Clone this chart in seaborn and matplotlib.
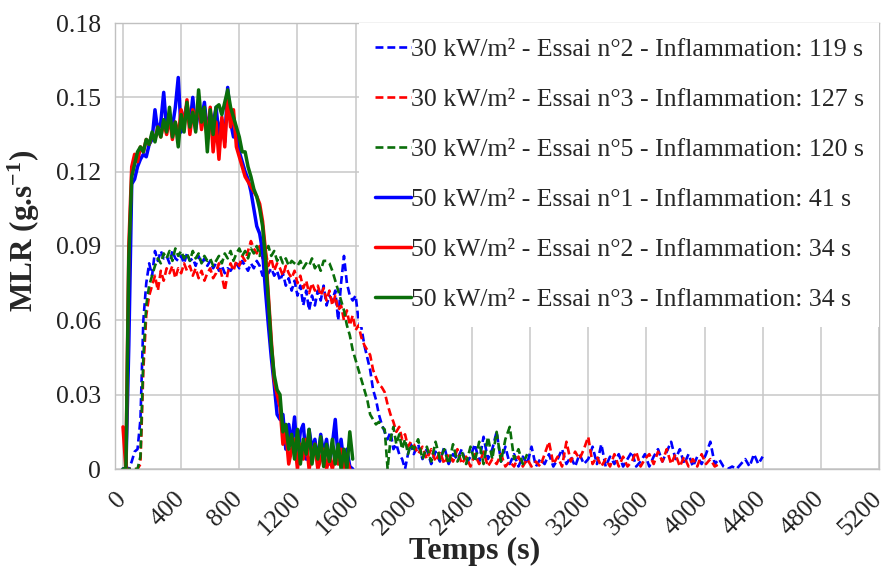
import matplotlib
matplotlib.use('Agg')
import matplotlib.pyplot as plt
import seaborn as sns
import numpy as np
import pandas as pd

# MLR curves read off the figure, main part sampled every 20 s from t = 0
# 30 kW/m2 curves also carry a tail sampled every 30 s from t = 2000
STEP_MAIN = 20
TAIL_START = 2000
STEP_TAIL = 30

labels = [
    "30 kW/m² - Essai n°2 - Inflammation: 119 s",
    "30 kW/m² - Essai n°3 - Inflammation: 127 s",
    "30 kW/m² - Essai n°5 - Inflammation: 120 s",
    "50 kW/m² - Essai n°1 - Inflammation: 41 s",
    "50 kW/m² - Essai n°2 - Inflammation: 34 s",
    "50 kW/m² - Essai n°3 - Inflammation: 34 s",
]
colors = ['#0000FF', '#FF0000', '#0A6E0A', '#0000FF', '#FF0000', '#0A6E0A']
styles = ['--', '--', '--', '-', '-', '-']

mlr_30_e2 = [
    0, 0, 0, 0.003, 0.007, 0.008, 0.02, 0.06, 0.075, 0.083,
    0.078, 0.088, 0.084, 0.088, 0.085, 0.086, 0.083, 0.088, 0.085, 0.084,
    0.086, 0.083, 0.087, 0.084, 0.085, 0.082, 0.086, 0.083, 0.085, 0.082,
    0.084, 0.081, 0.083, 0.080, 0.082, 0.079, 0.081, 0.080, 0.082, 0.083,
    0.081, 0.084, 0.082, 0.080, 0.083, 0.081, 0.084, 0.082, 0.078, 0.080,
    0.079, 0.081, 0.078, 0.080, 0.076, 0.079, 0.074, 0.077, 0.072, 0.076,
    0.070, 0.074, 0.066, 0.072, 0.064, 0.070, 0.066, 0.072, 0.068, 0.074,
    0.066, 0.070, 0.068, 0.072, 0.060, 0.075, 0.086, 0.075, 0.070, 0.068,
    0.070, 0.060, 0.057, 0.050, 0.045, 0.040, 0.032, 0.028, 0.022, 0.018,
    0.015, 0.012, 0.015, 0.008, 0.010, 0.006, 0.004, 0.0, 0.006, 0.010,
]
tail_30_e2 = [
    0.006, 0.010, 0.004, 0.008, 0.002, 0.007, 0.003, 0.009, 0.002, 0.006,
    0.004, 0.008, 0.002, 0.005, 0.010, 0.003, 0.013, 0.004, 0.008, 0.015,
    0.003, 0.009, 0.002, 0.006, 0.001, 0.005, 0.002, 0.009, 0.001, 0.004,
    0.002, 0.006, 0.001, 0.004, 0.008, 0.002, 0.005, 0.001, 0.006, 0.002,
    0.004, 0.009, 0.002, 0.010, 0.001, 0.005, 0.002, 0.006, 0.001, 0.004,
    0.007, 0.001, 0.003, 0.006, 0.001, 0.005, 0.008, 0.003, 0.007, 0.011,
    0.004, 0.008, 0.002, 0.006, 0.001, 0.005, 0.002, 0.006, 0.011, 0.002,
    0.004, 0.001, 0.0, 0.001, 0.0, 0.002, 0.004, 0.001, 0.006, 0.002,
    0.005,
]

mlr_30_e3 = [
    0, 0, 0, 0, 0, 0, 0.002, 0.04, 0.062, 0.070,
    0.074, 0.078, 0.072, 0.080, 0.076, 0.081, 0.079, 0.082, 0.077, 0.081,
    0.079, 0.083, 0.080, 0.082, 0.078, 0.081, 0.077, 0.080, 0.076, 0.079,
    0.081, 0.077, 0.079, 0.083, 0.078, 0.072, 0.079, 0.083, 0.080, 0.084,
    0.082, 0.086, 0.084, 0.088, 0.092, 0.089, 0.087, 0.090, 0.085, 0.088,
    0.082, 0.085, 0.080, 0.083, 0.081, 0.078, 0.082, 0.079, 0.077, 0.080,
    0.075, 0.078, 0.073, 0.076, 0.071, 0.075, 0.072, 0.074, 0.070, 0.073,
    0.068, 0.072, 0.066, 0.070, 0.064, 0.066, 0.060, 0.064, 0.058, 0.062,
    0.056, 0.058, 0.053, 0.050, 0.048, 0.046, 0.040, 0.037, 0.034, 0.033,
    0.031, 0.026, 0.022, 0.019, 0.015, 0.017, 0.012, 0.014, 0.009, 0.011,
]
tail_30_e3 = [
    0.010, 0.006, 0.009, 0.004, 0.008, 0.003, 0.007, 0.002, 0.006, 0.003,
    0.008, 0.002, 0.005, 0.001, 0.006, 0.002, 0.007, 0.001, 0.004, 0.002,
    0.006, 0.001, 0.003, 0.001, 0.005, 0.001, 0.004, 0.001, 0.003, 0.001,
    0.006, 0.011, 0.002, 0.005, 0.001, 0.011, 0.003, 0.007, 0.004, 0.008,
    0.013, 0.002, 0.005, 0.001, 0.004, 0.001, 0.006, 0.001, 0.005, 0.001,
    0.003, 0.007, 0.001, 0.004, 0.006, 0.002, 0.007, 0.003, 0.008, 0.002,
    0.006, 0.001, 0.005, 0.001, 0.004, 0.001, 0.006, 0.002, 0.004, 0.001,
    0.002,
]

mlr_30_e5 = [
    0, 0, 0, 0, 0, 0, 0.005, 0.045, 0.066, 0.074,
    0.078, 0.082, 0.085, 0.083, 0.087, 0.085, 0.088, 0.084, 0.089, 0.086,
    0.088, 0.085, 0.087, 0.084, 0.088, 0.085, 0.087, 0.083, 0.086, 0.084,
    0.085, 0.082, 0.084, 0.086, 0.083, 0.087, 0.085, 0.088, 0.084, 0.087,
    0.089, 0.086, 0.088, 0.085, 0.089, 0.087, 0.090, 0.086, 0.091, 0.088,
    0.090, 0.086, 0.088, 0.084, 0.086, 0.083, 0.085, 0.082, 0.084, 0.083,
    0.082, 0.084, 0.081, 0.083, 0.082, 0.085, 0.081, 0.083, 0.080, 0.084,
    0.084, 0.083, 0.080, 0.076, 0.072, 0.068, 0.064, 0.058, 0.054, 0.048,
    0.044, 0.040, 0.036, 0.032, 0.028, 0.022, 0.020, 0.018, 0.019, 0.017,
    0.016, 0.0, 0.012, 0.017, 0.010, 0.014, 0.008, 0.012, 0.006, 0.010,
]
tail_30_e5 = [
    0.008, 0.012, 0.004, 0.009, 0.003, 0.011, 0.004, 0.008, 0.002, 0.010,
    0.003, 0.007, 0.002, 0.009, 0.003, 0.011, 0.002, 0.013, 0.004, 0.015,
    0.003, 0.012, 0.017, 0.004, 0.008, 0.002, 0.006,
]

mlr_50_e1 = [
    0, 0, 0.05, 0.115, 0.117, 0.122, 0.125, 0.127, 0.126, 0.131,
    0.133, 0.145, 0.136, 0.140, 0.152, 0.137, 0.142, 0.138, 0.146, 0.158,
    0.136, 0.142, 0.147, 0.139, 0.150, 0.137, 0.145, 0.141, 0.148, 0.136,
    0.144, 0.139, 0.146, 0.135, 0.141, 0.132, 0.154, 0.140, 0.134, 0.135,
    0.128, 0.124, 0.120, 0.117, 0.112, 0.105, 0.098, 0.095, 0.088, 0.072,
    0.058, 0.045, 0.034, 0.022, 0.020, 0.022, 0.008, 0.018, 0.010, 0.021,
    0.005, 0.015, 0.018, 0.004, 0.016, 0.008, 0.012, 0.003, 0.014, 0.006,
    0.012, 0.002, 0.010, 0.020, 0.004, 0.012, 0.002, 0.008, 0.001, 0.0,
]
mlr_50_e2 = [
    0.017, 0, 0.09, 0.122, 0.127, 0.124, 0.130, 0.128, 0.133, 0.131,
    0.135, 0.133, 0.138, 0.134, 0.140, 0.135, 0.142, 0.133, 0.140, 0.134,
    0.145, 0.138, 0.149, 0.135, 0.145, 0.140, 0.148, 0.137, 0.144, 0.133,
    0.146, 0.128, 0.140, 0.125, 0.142, 0.130, 0.150, 0.138, 0.145, 0.130,
    0.126, 0.122, 0.118, 0.116, 0.114, 0.112, 0.110, 0.107, 0.100, 0.088,
    0.070, 0.052, 0.036, 0.030, 0.025, 0.010, 0.015, 0.002, 0.008, 0.012,
    0.0, 0.010, 0.004, 0.012, 0.0, 0.006, 0.010, 0.0, 0.004, 0.008,
    0.0, 0.005, 0.0, 0.006, 0.002, 0.008, 0.0, 0.004, 0.0,
]
mlr_50_e3 = [
    0, 0, 0.085, 0.118, 0.123, 0.128, 0.130, 0.128, 0.133, 0.131,
    0.136, 0.132, 0.138, 0.134, 0.141, 0.136, 0.146, 0.134, 0.140, 0.130,
    0.143, 0.136, 0.148, 0.138, 0.144, 0.136, 0.153, 0.140, 0.146, 0.128,
    0.145, 0.135, 0.146, 0.147, 0.143, 0.148, 0.153, 0.146, 0.142, 0.138,
    0.134, 0.128, 0.128, 0.122, 0.118, 0.113, 0.110, 0.105, 0.098, 0.085,
    0.068, 0.050, 0.038, 0.032, 0.030, 0.015, 0.018, 0.008, 0.014, 0.004,
    0.016, 0.002, 0.012, 0.006, 0.016, 0.002, 0.010, 0.004, 0.013, 0.001,
    0.010, 0.003, 0.012, 0.002, 0.010, 0.0, 0.008, 0.0, 0.015, 0.004,
]

main_series = [mlr_30_e2, mlr_30_e3, mlr_30_e5, mlr_50_e1, mlr_50_e2, mlr_50_e3]
tail_series = [tail_30_e2, tail_30_e3, tail_30_e5, [], [], []]

x_ticks = [0, 400, 800, 1200, 1600, 2000, 2400, 2800, 3200, 3600, 4000, 4400, 4800, 5200]
y_ticks = [0, 0.03, 0.06, 0.09, 0.12, 0.15, 0.18]
y_tick_labels = ['0', '0.03', '0.06', '0.09', '0.12', '0.15', '0.18']


def build_frame(main, tail):
    t = list(np.arange(len(main)) * STEP_MAIN)
    t += list(TAIL_START + np.arange(len(tail)) * STEP_TAIL)
    return pd.DataFrame({'temps': t, 'mlr': list(main) + list(tail)})


def plot_mlr(output_path='out.png'):
    sns.set_style('white')
    plt.rcParams['font.family'] = ['Liberation Serif', 'DejaVu Serif']
    plt.rcParams['mathtext.fontset'] = 'custom'
    plt.rcParams['mathtext.rm'] = 'Liberation Serif'
    plt.rcParams['mathtext.bf'] = 'Liberation Serif:bold'
    plt.rcParams['mathtext.default'] = 'bf'

    fig = plt.figure(figsize=(8.88, 5.66), dpi=100)
    ax = fig.add_axes([115 / 888, 1 - 469 / 566, (879 - 115) / 888, (469 - 23) / 566])

    for main, tail, lab, col, ls in zip(main_series, tail_series, labels, colors, styles):
        df = build_frame(main, tail)
        if ls == '--':
            sns.lineplot(data=df, x='temps', y='mlr', ax=ax, color=col, linewidth=1.9,
                         dashes=(3, 1.5), label=lab, estimator=None, sort=False)
        else:
            sns.lineplot(data=df, x='temps', y='mlr', ax=ax, color=col, linewidth=2.5,
                         label=lab, estimator=None, sort=False)

    ax.set_xlim(-55, 5200)
    ax.set_ylim(0, 0.18)
    ax.set_xticks(x_ticks)
    ax.set_xticklabels([str(v) for v in x_ticks], rotation=45, ha='right',
                       va='center', rotation_mode='anchor')
    ax.set_yticks(y_ticks)
    ax.set_yticklabels(y_tick_labels)
    ax.tick_params(axis='both', length=0, labelsize=18.5, colors='#222222')
    ax.tick_params(axis='x', pad=19)
    ax.tick_params(axis='y', pad=10)

    ax.grid(True, color='#C8C8C8', linewidth=1.1)
    for s in ax.spines.values():
        s.set_color('#C0C0C0')
        s.set_linewidth(1.0)

    ax.set_xlabel('Temps (s)', fontsize=23, fontweight='bold')
    ax.xaxis.set_label_coords(0.471, -0.153)
    ax.set_ylabel(r'MLR (g.s$^{-1}$)', fontsize=22.5, fontweight='bold')
    ax.yaxis.set_label_coords(-0.095, 0.534)

    leg = ax.legend(loc='upper right', bbox_to_anchor=(1.0, 1.0), fontsize=18.5,
                    frameon=True, fancybox=False, framealpha=1, edgecolor='white',
                    facecolor='white', handlelength=1.4, handletextpad=0.0,
                    labelspacing=1.05, borderaxespad=0.0, borderpad=0.6)
    leg.get_frame().set_linewidth(0)

    fig.savefig(output_path, dpi=100)


plot_mlr()
